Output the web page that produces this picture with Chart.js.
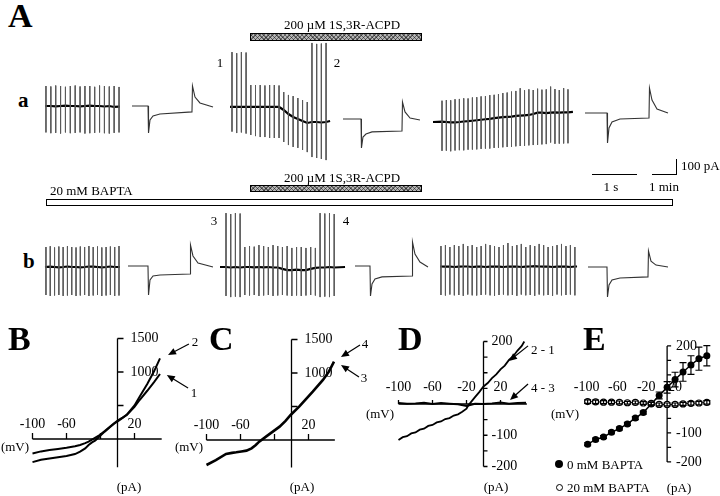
<!DOCTYPE html>
<html lang="en">
<head>
<meta charset="UTF-8">
<title>1S,3R-ACPD currents</title>
<script src="https://cdn.jsdelivr.net/npm/chart.js"></script>
<style>
  body { margin: 0; background: #fff; }
  #fig { position: relative; width: 720px; height: 496px; overflow: hidden;
         font-family: "Liberation Serif", "DejaVu Serif", serif; color: #000; }
  #fig canvas { position: absolute; }
  .t { position: absolute; line-height: 1; white-space: nowrap; }
  .bar { position: absolute; box-sizing: border-box; }
  .acpd { border: 1px solid #000; background-color: #b4b4b4;
          background-image: repeating-linear-gradient(45deg, rgba(0,0,0,.45) 0 1px, transparent 1px 3px),
                            repeating-linear-gradient(-45deg, rgba(0,0,0,.45) 0 1px, transparent 1px 3px); }
  .bapta { border: 1.5px solid #000; background: #fff; }
  .line { position: absolute; background: #000; }
  .dot { position: absolute; box-sizing: border-box; border-radius: 50%; }
</style>
</head>
<body>
<div id="fig"></div>
<script>
// ---------- panel A: membrane current traces (pA) ----------
// spike trains (one ramp per spike): peak, trough and holding current
const a1Up   = [125, 122, 128, 125, 120, 125, 128, 122, 125, 125, 120, 128, 125, 122, 125, 119];
const a1Down = [-165, -170, -168, -172, -165, -170, -168, -165, -172, -170, -168, -165, -170, -172, -168, -165];
const a1Hold = [0, 0, -2, 0, 2, 0, 0, -2, 0, 2, 0, 0, -3, 0, -6, -4];

const a2Up   = [337, 330, 337, 334, 131, 131, 131, 128, 131, 131, 128, 87, 69, 62, 50, 37, 25, 394, 388, 390, 394];
const a2Down = [-160, -169, -165, -172, -181, -188, -194, -194, -200, -200, -200, -225, -244, -256, -262, -275, -288, -319, -325, -331, -338];
const a2Hold = [-6, -6, -6, -6, -6, -6, -6, -6, -6, -6, -6, -25, -50, -69, -81, -94, -106, -100, -100, -103, -100];

const a3Up   = [33, 37, 36, 42, 44, 48, 47, 53, 55, 60, 62, 68, 70, 75, 81, 84, 90, 94, 111, 98, 104, 100, 108, 102, 104, 121, 106, 100, 112, 104];
const a3Down = [-280, -279, -283, -278, -276, -277, -273, -272, -271, -268, -266, -266, -262, -261, -258, -256, -255, -252, -250, -249, -246, -244, -243, -240, -238, -228, -236, -235, -234, -233];
const a3Hold = [-98, -100, -102, -102, -100, -97, -95, -92, -89, -86, -83, -80, -76, -73, -70, -68, -66, -62, -60, -58, -56, -50, -42, -42, -44, -42, -40, -42, -40, -40];

const b1Up   = [125, 130, 122, 128, 125, 131, 125, 122, 128, 125, 131, 125, 128, 122, 125, 128, 125, 131];
const b1Down = [-175, -181, -178, -175, -181, -178, -175, -181, -178, -175, -181, -178, -175, -181, -178, -175, -181, -178];
const b1Hold = [0, 2, 0, -2, 0, 3, 0, 0, -2, 0, 3, 2, 0, -2, 0, 3, 0, 0];

const b2Up   = [337, 331, 337, 334, 125, 131, 127, 137, 131, 125, 137, 131, 125, 131, 119, 125, 125, 119, 125, 119, 337, 334, 337, 331];
const b2Down = [-181, -188, -185, -188, -175, -178, -175, -181, -178, -175, -181, -178, -175, -178, -181, -178, -181, -178, -175, -178, -188, -185, -188, -181];
const b2Hold = [0, -3, 0, -3, 0, 0, -2, 0, -2, 0, -3, -3, -12, -19, -19, -16, -19, -19, -12, -6, -3, -3, 0, -3];

const b3Up   = [131, 137, 125, 137, 131, 144, 131, 137, 125, 131, 144, 137, 131, 125, 137, 150, 131, 137, 144, 125, 137, 131, 144, 137, 125, 131, 137, 144, 131, 137, 125];
const b3Down = [-175, -178, -172, -177, -175, -180, -172, -177, -178, -175, -172, -177, -180, -175, -172, -177, -175, -180, -172, -177, -175, -180, -172, -177, -175, -180, -172, -177, -175, -172, -177];
const b3Hold = [3, 2, 3, 0, 2, 3, 3, 0, 2, 3, 0, 2, 3, 2, 0, 3, 2, 3, 0, 2, 3, 6, 3, 2, 3, 0, 2, 3, 2, 0, 3];

// ramp timing: [first ramp, interval, trace length] in min; holding current at trace start / end
const a1Time = [0.04, 0.203, 3.125],  a1Ends = [0, -4];
const a2Time = [0.083, 0.196, 4.17],  a2Ends = [-6, -94];
const a3Time = [0.375, 0.181, 5.83],  a3Ends = [-100, -37];
const b1Time = [0.04, 0.179, 3.125],  b1Ends = [0, 0];
const b2Time = [0.25, 0.196, 5.21],   b2Ends = [0, 0];
const b3Time = [0.04, 0.186, 5.71],   b3Ends = [3, 3];

// voltage step responses: time (s), current (pA)
const aStep1T = [0, 0.356, 0.367, 0.4, 0.467, 0.62, 1.333, 1.344, 1.4, 1.51, 1.8];
const aStep1I = [0, 0, -169, -87, -62, -50, -37, 125, 56, 19, -6];
const aStep2T = [0, 0.4, 0.41, 0.444, 0.51, 0.644, 1.311, 1.322, 1.378, 1.49, 1.71];
const aStep2I = [-81, -81, -262, -194, -175, -162, -156, 25, -37, -75, -87];
const aStep3T = [0, 0.489, 0.5, 0.533, 0.6, 0.778, 1.422, 1.433, 1.489, 1.6, 1.844];
const aStep3I = [-44, -44, -231, -137, -100, -81, -75, 112, 37, -19, -44];
const bStep1T = [0, 0.444, 0.456, 0.489, 0.556, 0.711, 1.378, 1.389, 1.444, 1.556, 1.889];
const bStep1I = [6, 6, -175, -81, -56, -50, -44, 137, 69, 25, 0];
const bStep2T = [0, 0.333, 0.344, 0.378, 0.444, 0.6, 1.267, 1.278, 1.333, 1.444, 1.622];
const bStep2I = [6, 6, -181, -106, -75, -62, -56, 156, 81, 31, 0];
const bStep3T = [0, 0.422, 0.433, 0.467, 0.533, 0.711, 1.333, 1.344, 1.4, 1.511, 1.778];
const bStep3I = [0, 0, -187, -112, -81, -69, -62, 100, 37, 12, 0];

// ---------- panels B-E: I-V relations (mV, pA) ----------
const bMv1 = [-100, -90, -80, -70, -60, -50, -44, -38, -34, -28, -21, -15, -9, -4, 1, 6, 11, 20, 26, 35, 43, 50];
const bPa1 = [-215, -185, -165, -148, -130, -108, -90, -62, -40, 5, 60, 120, 184, 235, 284, 320, 358, 480, 582, 720, 850, 970];
const bMv2 = [-100, -90, -80, -70, -60, -50, -44, -38, -34, -30, -26, -21, -15, -9, -4, 1, 6, 11, 20, 26, 35, 43, 50];
const bPa2 = [-345, -310, -290, -272, -254, -225, -189, -140, -90, -50, -20, 40, 110, 175, 228, 270, 315, 365, 500, 632, 820, 1010, 1204];

const cMv = [-100, -89, -77, -70, -65, -59, -53, -47, -42, -38, -30, -22, -14, -7, -1, 9, 17, 25, 37, 44, 50];
const cPa = [-373, -299, -209, -192, -184, -172, -159, -124, -75, -25, 50, 125, 199, 285, 373, 497, 610, 721, 896, 1020, 1169];

const dMv21 = [-100, -95, -90, -85, -80, -75, -70, -65, -60, -55, -50, -45, -40, -35, -30, -25, -20, -18, -15, -10, -5, 0, 5, 10, 15, 20, 25, 30, 35, 40, 45, 48];
const dPa21 = [-115, -106, -103, -94, -91, -82, -79, -70, -67, -59, -56, -48, -45, -37, -33, -25, -15, -5, 5, 22, 38, 56, 67, 83, 95, 111, 123, 141, 153, 171, 186, 200];
const dMv43 = [-100, -90, -80, -70, -60, -50, -40, -30, -20, -10, 0, 10, 20, 30, 40, 50];
const dPa43 = [3, 1, 2, 4, 0, 3, 1, -1, -6, 1, 0, 2, 5, 1, 3, 4];

const eMv       = [-100, -90, -80, -70, -60, -50, -40, -30, -20, -10, 0, 10, 20, 30, 40, 50];
const eCtrl     = [-139, -123, -114, -98, -85, -69, -49, -30, 0, 29, 57, 84, 110, 134, 156, 166];
const eCtrlErr  = [5, 5, 5, 5, 5, 5, 5, 5, 5, 12, 20, 25, 32, 32, 40, 35];
const eBapta    = [8, 7, 6, 6, 5, 4, 5, 3, 2, -2, -2, -2, 0, 2, 3, 5];
const eBaptaErr = [6, 6, 5, 5, 5, 5, 5, 5, 5, 5, 5, 5, 5, 6, 6, 6];

// axis ticks and labels
const ivXTicks  = [-100, -60, -20, 20];
const bXLabels  = [-100, -60, 20];
const bYTicks   = [500, 1000, 1500];
const bYLabels  = [1500, 1000];
const dXLabels  = [-100, -60, -20, 20];
const dYTicks   = [-200, -150, -100, -50, 50, 100, 150, 200];
const dYLabels  = [200, -100, -200];

// ---------- layout ----------
const fig = document.getElementById('fig');
const kpA = 0.16;                 // px per pA in the traces
const pxPerMin = 24, pxPerSec = 45;
const rowA = { top: 38, h: 134, y0: 106 };
const rowB = { top: 205, h: 100, y0: 267 };

const xy = (xs, ys) => xs.map((v, i) => ({ x: v, y: ys[i] }));

function addChart(box, xr, yr, datasets, plugins) {
  const c = document.createElement('canvas');
  c.width = box.w; c.height = box.h;
  c.style.left = box.l + 'px'; c.style.top = box.t + 'px';
  c.style.width = box.w + 'px'; c.style.height = box.h + 'px';
  fig.appendChild(c);
  return new Chart(c, {
    type: 'line',
    data: { datasets },
    options: {
      responsive: false, animation: false, events: [], devicePixelRatio: 1,
      layout: { padding: 0 },
      plugins: { legend: { display: false }, tooltip: { enabled: false } },
      scales: {
        x: { type: 'linear', min: xr[0], max: xr[1], display: false },
        y: { type: 'linear', min: yr[0], max: yr[1], display: false }
      }
    },
    plugins: plugins || []
  });
}

// one trace segment, placed at startPx, own time unit
function trace(row, startPx, perUnit, tEnd, datasets) {
  const pad = 3;
  const box = { l: startPx - pad, t: row.top, w: Math.round(tEnd * perUnit + 2 * pad), h: row.h };
  const xr = [-pad / perUnit, (box.w - pad) / perUnit];
  const yr = [(row.y0 - row.top - row.h) / kpA, (row.y0 - row.top) / kpA];
  addChart(box, xr, yr, datasets);
}

function train(up, down, hold, time, ends) {
  const base = [{ x: 0, y: ends[0] }], spikes = [];
  up.forEach((u, i) => {
    const t = time[0] + i * time[1];
    base.push({ x: t, y: hold[i] });
    spikes.push({ x: t, y: u }, { x: t, y: down[i] }, { x: t, y: null });
  });
  base.push({ x: time[2], y: ends[1] });
  return [
    { data: spikes, borderColor: '#5a5a5a', borderWidth: 1, pointRadius: 0, spanGaps: false },
    { data: base, borderColor: '#000', borderWidth: 2.2, pointRadius: 0 }
  ];
}

function step(T, I) {
  return [{ data: xy(T, I), borderColor: '#333', borderWidth: 1.1, pointRadius: 0 }];
}

trace(rowA, 45,  pxPerMin, a1Time[2], train(a1Up, a1Down, a1Hold, a1Time, a1Ends));
trace(rowA, 230, pxPerMin, a2Time[2], train(a2Up, a2Down, a2Hold, a2Time, a2Ends));
trace(rowA, 433, pxPerMin, a3Time[2], train(a3Up, a3Down, a3Hold, a3Time, a3Ends));
trace(rowA, 132, pxPerSec, aStep1T[aStep1T.length - 1], step(aStep1T, aStep1I));
trace(rowA, 343, pxPerSec, aStep2T[aStep2T.length - 1], step(aStep2T, aStep2I));
trace(rowA, 585, pxPerSec, aStep3T[aStep3T.length - 1], step(aStep3T, aStep3I));

trace(rowB, 45,  pxPerMin, b1Time[2], train(b1Up, b1Down, b1Hold, b1Time, b1Ends));
trace(rowB, 220, pxPerMin, b2Time[2], train(b2Up, b2Down, b2Hold, b2Time, b2Ends));
trace(rowB, 440, pxPerMin, b3Time[2], train(b3Up, b3Down, b3Hold, b3Time, b3Ends));
trace(rowB, 128, pxPerSec, bStep1T[bStep1T.length - 1], step(bStep1T, bStep1I));
trace(rowB, 355, pxPerSec, bStep2T[bStep2T.length - 1], step(bStep2T, bStep2I));
trace(rowB, 588, pxPerSec, bStep3T[bStep3T.length - 1], step(bStep3T, bStep3I));

// ---------- I-V panels ----------
function arrow(ctx, x1, y1, x2, y2) {
  const a = Math.atan2(y2 - y1, x2 - x1), L = 8, W = 3.5;
  const c = Math.cos(a), s = Math.sin(a);
  ctx.beginPath(); ctx.moveTo(x1, y1); ctx.lineTo(x2 - L * 0.6 * c, y2 - L * 0.6 * s); ctx.stroke();
  ctx.beginPath();
  ctx.moveTo(x2, y2);
  ctx.lineTo(x2 - L * c + W * s, y2 - L * s - W * c);
  ctx.lineTo(x2 - L * c - W * s, y2 - L * s + W * c);
  ctx.closePath(); ctx.fill();
}

function ivPlugin(cfg) {
  return {
    id: 'ivAxes',
    beforeDatasetsDraw(chart) {
      const { ctx, scales: { x, y } } = chart;
      const X = v => x.getPixelForValue(v), Y = v => y.getPixelForValue(v);
      ctx.save();
      ctx.strokeStyle = '#000';
      ctx.lineWidth = 1.3;
      ctx.beginPath();
      ctx.moveTo(X(0), Y(cfg.yFrom)); ctx.lineTo(X(0), Y(cfg.yTo));
      if (cfg.xTo !== undefined) { ctx.moveTo(X(cfg.xFrom), Y(0)); ctx.lineTo(X(cfg.xTo), Y(0)); }
      cfg.yTicks.forEach(v => { ctx.moveTo(X(0), Y(v)); ctx.lineTo(X(0) + cfg.tick, Y(v)); });
      cfg.xTicks.forEach(v => { ctx.moveTo(X(v), Y(0)); ctx.lineTo(X(v), Y(0) - cfg.tick); });
      ctx.stroke();
      ctx.fillStyle = '#000';
      ctx.font = '14px "Liberation Serif", serif';
      ctx.textBaseline = 'middle';
      ctx.textAlign = 'center';
      cfg.xLabels.forEach((v, i) => ctx.fillText(String(v), X(v) + (cfg.xShift ? cfg.xShift[i] : 0), Y(0) - cfg.xGap));
      ctx.textAlign = 'left';
      cfg.yLabels.forEach(v => ctx.fillText(String(v), X(0) + cfg.yGap, Y(v)));
      ctx.restore();
    },
    afterDatasetsDraw(chart) {
      const { ctx, scales: { x, y } } = chart;
      const X = v => x.getPixelForValue(v), Y = v => y.getPixelForValue(v);
      ctx.save();
      ctx.strokeStyle = '#000'; ctx.fillStyle = '#000'; ctx.lineWidth = 1.2;
      (cfg.errors || []).forEach(e => {
        e.xs.forEach((v, i) => {
          const px = X(v), hi = Y(e.ys[i] + e.es[i]), lo = Y(e.ys[i] - e.es[i]);
          ctx.beginPath();
          ctx.moveTo(px, hi); ctx.lineTo(px, lo);
          ctx.moveTo(px - 3.5, hi); ctx.lineTo(px + 3.5, hi);
          ctx.moveTo(px - 3.5, lo); ctx.lineTo(px + 3.5, lo);
          ctx.stroke();
        });
      });
      (cfg.arrows || []).forEach(a => arrow(ctx, X(a[0]), Y(a[1]), X(a[2]), Y(a[3])));
      ctx.restore();
    }
  };
}

function ivPanel(box, datasets, cfg) {
  const xr = [(box.l - box.x0) / box.kx, (box.l + box.w - box.x0) / box.kx];
  const yr = [(box.y0 - box.t - box.h) / box.ky, (box.y0 - box.t) / box.ky];
  addChart(box, xr, yr, datasets, [ivPlugin(cfg)]);
}

const curve = (xs, ys, w) => ({ data: xy(xs, ys), borderColor: '#000', borderWidth: w, pointRadius: 0 });

ivPanel({ l: 0, t: 325, w: 205, h: 150, x0: 117.5, y0: 439, kx: 0.85, ky: 0.067 },
  [curve(bMv1, bPa1, 2), curve(bMv2, bPa2, 2)],
  { yFrom: -420, yTo: 1500, xFrom: -100, xTo: 52, xTicks: ivXTicks, yTicks: bYTicks,
    xLabels: bXLabels, yLabels: bYLabels, tick: 6, xGap: 15, yGap: 13,
    arrows: [[84, 1418, 59.4, 1254], [83, 761, 58, 955]] });

ivPanel({ l: 175, t: 325, w: 200, h: 150, x0: 291.5, y0: 440, kx: 0.85, ky: 0.067 },
  [curve(cMv, cPa, 2.6)],
  { yFrom: -410, yTo: 1500, xFrom: -100, xTo: 51, xTicks: ivXTicks, yTicks: bYTicks,
    xLabels: bXLabels, yLabels: bYLabels, tick: 6, xGap: 15, yGap: 13,
    arrows: [[80.6, 1418, 58.2, 1239], [79.4, 940, 58.2, 1119]] });

ivPanel({ l: 380, t: 330, w: 170, h: 145, x0: 483.5, y0: 404, kx: 0.85, ky: 0.3125 },
  [curve(dMv43, dPa43, 2), curve(dMv21, dPa21, 1.8)],
  { yFrom: -200, yTo: 200, xFrom: -100, xTo: 51, xTicks: ivXTicks, yTicks: dYTicks,
    xLabels: dXLabels, yLabels: dYLabels, tick: 4, xGap: 17, yGap: 8,
    arrows: [[52.4, 186, 30, 138], [52.4, 64, 31.2, 13]] });

ivPanel({ l: 560, t: 330, w: 160, h: 145, x0: 669, y0: 404, kx: 0.85, ky: 0.3125 },
  [
    { data: xy(eMv, eBapta), borderColor: '#000', borderWidth: 1, pointRadius: 3,
      pointBackgroundColor: '#fff', pointBorderColor: '#000', pointBorderWidth: 1.2 },
    { data: xy(eMv, eCtrl), borderColor: '#000', borderWidth: 1.5, pointRadius: 3.5,
      pointBackgroundColor: '#000', pointBorderColor: '#000', pointBorderWidth: 0 }
  ],
  { yFrom: -200, yTo: 200, xTicks: [], yTicks: dYTicks,
    xLabels: dXLabels, xShift: [-1, -2, -5, -8], yLabels: dYLabels, tick: 4, xGap: 17, yGap: 9,
    errors: [{ xs: eMv, ys: eCtrl, es: eCtrlErr }, { xs: eMv, ys: eBapta, es: eBaptaErr }] });

// ---------- text, bars, scale bars ----------
function text(str, x, y, size, opt) {
  opt = opt || {};
  const d = document.createElement('div');
  d.className = 't';
  d.textContent = str;
  d.style.fontSize = size + 'px';
  if (opt.bold) d.style.fontWeight = 'bold';
  d.style.left = x + 'px';
  d.style.top = y + 'px';
  d.style.transform = opt.left ? 'translate(0,-50%)' : 'translate(-50%,-50%)';
  fig.appendChild(d);
}
function box(cls, l, t, w, h) {
  const d = document.createElement('div');
  d.className = cls;
  Object.assign(d.style, { left: l + 'px', top: t + 'px', width: w + 'px', height: h + 'px' });
  fig.appendChild(d);
}

box('bar acpd', 250, 33, 172, 8);
box('bar acpd', 250, 185, 172, 7);
box('bar bapta', 46, 199, 627, 7);

box('line', 592, 173.5, pxPerSec, 1);
box('line', 652, 173.5, pxPerMin, 1);
box('line', 652 + pxPerMin - 0.5, 174.5 - 100 * kpA, 1, 100 * kpA);

const B = { bold: true, left: true }, L = { left: true };
text('A', 8, 16, 34, B);
text('a', 18, 100, 21, B);
text('b', 23, 261, 21, B);
text('200 µM 1S,3R-ACPD', 342, 24, 13);
text('200 µM 1S,3R-ACPD', 342, 177, 13);
text('20 mM BAPTA', 50, 190, 13, L);
text('1', 220, 62, 13); text('2', 337, 62, 13);
text('3', 214, 220, 13); text('4', 346, 220, 13);
text('1 s', 611, 186, 13);
text('1 min', 664, 186, 13);
text('100 pA', 681, 165, 13, L);

text('B', 8, 339, 34, B); text('C', 209, 339, 34, B);
text('D', 398, 339, 34, B); text('E', 583, 339, 34, B);
text('(mV)', 15, 446, 13); text('(mV)', 189, 446, 13);
text('(mV)', 380, 413, 13); text('(mV)', 565, 413, 13);
text('(pA)', 129, 486, 13); text('(pA)', 302, 486, 13);
text('(pA)', 496, 486, 13); text('(pA)', 679, 487, 13);
text('2', 195, 341, 13); text('1', 194, 392, 13);
text('4', 365, 343, 13); text('3', 364, 377, 13);
text('2 - 1', 531, 349, 13, L); text('4 - 3', 531, 387, 13, L);

box('dot', 555, 460, 8, 8);
fig.lastChild.style.background = '#000';
box('dot', 555.5, 483.5, 7, 7);
fig.lastChild.style.border = '1.3px solid #000';
text('0 mM BAPTA', 567, 464, 13, L);
text('20 mM BAPTA', 567, 487, 13, L);
</script>
</body>
</html>
